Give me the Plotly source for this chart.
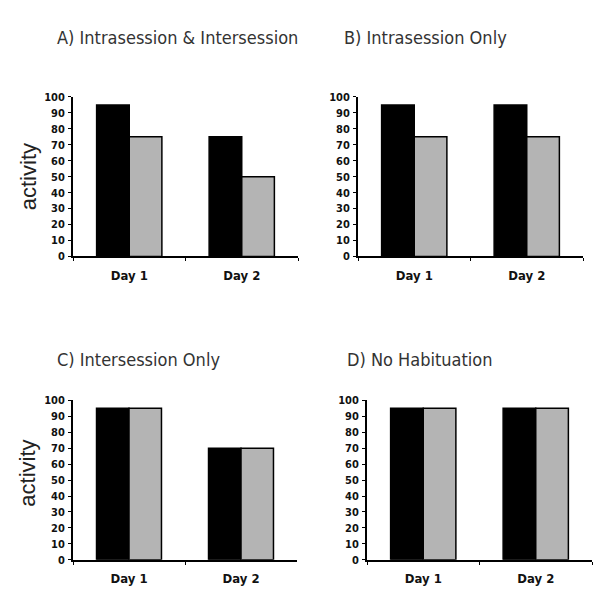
import plotly.graph_objects as go

categories = ["Day 1", "Day 2"]
titles = ["A) Intrasession & Intersession", "B) Intrasession Only",
          "C) Intersession Only", "D) No Habituation"]
black_vals = [[95, 75], [95, 95], [95, 70], [95, 95]]
grey_vals = [[75, 50], [75, 75], [95, 70], [95, 95]]
y_ticks = [0, 10, 20, 30, 40, 50, 60, 70, 80, 90, 100]

W, H = 600, 603
# pixel boxes (left, right, top, bottom) for each panel plot area
boxes = [(73, 298, 93, 256), (358, 583, 93, 256),
         (73, 297, 403, 566), (367, 592, 403, 566)]
title_pos = [(55, 32), (342, 32), (55, 361), (345, 361)]

NARROW = "DejaVu Sans Condensed, Liberation Sans Narrow, Arial Narrow, Liberation Sans, sans-serif"

fig = go.Figure()
for i in range(4):
    xa = "x" if i == 0 else f"x{i+1}"
    ya = "y" if i == 0 else f"y{i+1}"
    fig.add_trace(go.Bar(x=categories, y=black_vals[i], xaxis=xa, yaxis=ya,
                         marker=dict(color="#000000", line=dict(color="#000000", width=1.5)),
                         showlegend=False, hoverinfo="skip"))
    fig.add_trace(go.Bar(x=categories, y=grey_vals[i], xaxis=xa, yaxis=ya,
                         marker=dict(color="#b4b4b4", line=dict(color="#000000", width=1.5)),
                         showlegend=False, hoverinfo="skip"))
    l, r, t, b = boxes[i]
    xkey = "xaxis" if i == 0 else f"xaxis{i+1}"
    ykey = "yaxis" if i == 0 else f"yaxis{i+1}"
    fig.layout[xkey] = dict(domain=[l / W, r / W], anchor=ya, showline=True,
                            linecolor="#000", linewidth=2, ticks="outside",
                            tickson="boundaries", ticklen=3, tickcolor="#000",
                            tickwidth=1, showgrid=False, zeroline=False,
                            tickfont=dict(family=NARROW, size=13, color="#111", weight="bold"),
                            ticklabelstandoff=6, fixedrange=True)
    fig.layout[ykey] = dict(domain=[1 - b / H, 1 - t / H], anchor=xa, range=[0, 100],
                            tickvals=y_ticks, showline=True, linecolor="#000",
                            linewidth=2, ticks="outside", ticklen=3, tickcolor="#000",
                            tickwidth=1, showgrid=False, zeroline=False,
                            tickfont=dict(family=NARROW, size=11, color="#111", weight="bold"),
                            ticklabelstandoff=1, fixedrange=True)
    tx, ty = title_pos[i]
    fig.add_annotation(text=titles[i], x=tx / W, y=1 - ty / H, xref="paper", yref="paper",
                       xanchor="left", yanchor="middle", showarrow=False,
                       font=dict(family=NARROW, size=18, color="#333"))

for yc in [175, 478]:
    fig.add_annotation(text="activity", x=28 / W, y=1 - yc / H, xref="paper", yref="paper",
                       xanchor="center", yanchor="middle", showarrow=False, textangle=-90,
                       font=dict(family="Liberation Sans, Arial, sans-serif", size=22, color="#222"))

fig.update_layout(width=W, height=H, margin=dict(l=0, r=0, t=0, b=0),
                  paper_bgcolor="white", plot_bgcolor="white",
                  barmode="group", bargap=0.42, bargroupgap=0)
fig.write_html("out.html", config={"displayModeBar": False},
               post_script="document.body.style.margin='0';document.body.style.overflow='hidden';")
